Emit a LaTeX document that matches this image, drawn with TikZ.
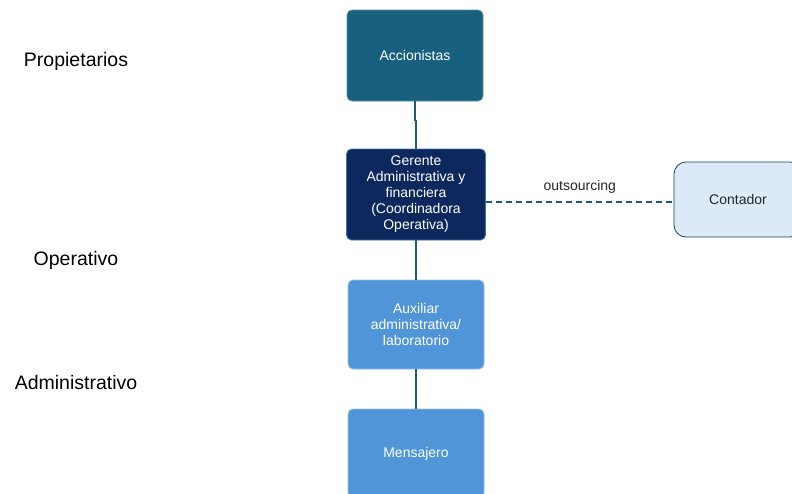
\documentclass[tikz,border=0pt]{standalone}
\usepackage{fontspec}
\setmainfont{Liberation Sans}
\definecolor{teal1}{RGB}{24,96,128}
\definecolor{navy1}{RGB}{12,40,92}
\definecolor{sky1}{RGB}{79,149,216}
\definecolor{pale1}{RGB}{220,233,247}
\definecolor{line1}{RGB}{30,90,120}
\begin{document}
\begin{tikzpicture}[x=1pt, y=-1pt,
    box/.style={rounded corners=5pt, align=center, text=white, inner sep=2pt,
        font=\fontsize{14}{16}\selectfont, line width=0.8pt},
    lvl/.style={font=\fontsize{19.5}{22}\selectfont},
    conn/.style={line1, line width=1.4pt}]
\useasboundingbox (0,0) rectangle (792,493);
\clip (0,0) rectangle (792,493);
\fill[white] (0,0) rectangle (792,493);

\node[lvl] (prop) at (76,61) {Propietarios};
\node[lvl] (oper) at (76,260) {Operativo};
\node[lvl] (admin) at (76,383) {Administrativo};

\node[box, fill=teal1, draw=teal1!70!white, minimum width=136pt, minimum height=91pt] (acc) at (415,55.5) {Accionistas};
\node[box, fill=navy1, draw=sky1!70!navy1, minimum width=139pt, minimum height=91pt] (ger) at (416,194.5)
    {Gerente\\Administrativa y\\financiera\\(Coordinadora\\Operativa)};
\node[box, fill=sky1, draw=sky1!60!white, minimum width=136pt, minimum height=89pt] (aux) at (416,324.5)
    {Auxiliar\\administrativa/\\laboratorio};
\node[box, fill=sky1, draw=sky1!60!white, minimum width=136pt, minimum height=89pt] (mens) at (416,453.5) {Mensajero};
\node[box, fill=pale1, draw=line1!80!black, text=black!85, rounded corners=12pt,
    minimum width=128pt, minimum height=75pt] (cont) at (738,199.5) {Contador};

\draw[conn] (acc.south) -- ++(0,19) -| (ger.north);
\draw[conn] (ger.south) -- (aux.north);
\draw[conn] (aux.south) -- (mens.north);
\draw[conn, dash pattern=on 6pt off 4pt] (ger.east |- 0,202) -- node[above=5pt, text=black!85, font=\fontsize{14}{16}\selectfont] (outs) {outsourcing} (cont.west |- 0,202);
\end{tikzpicture}
\end{document}
